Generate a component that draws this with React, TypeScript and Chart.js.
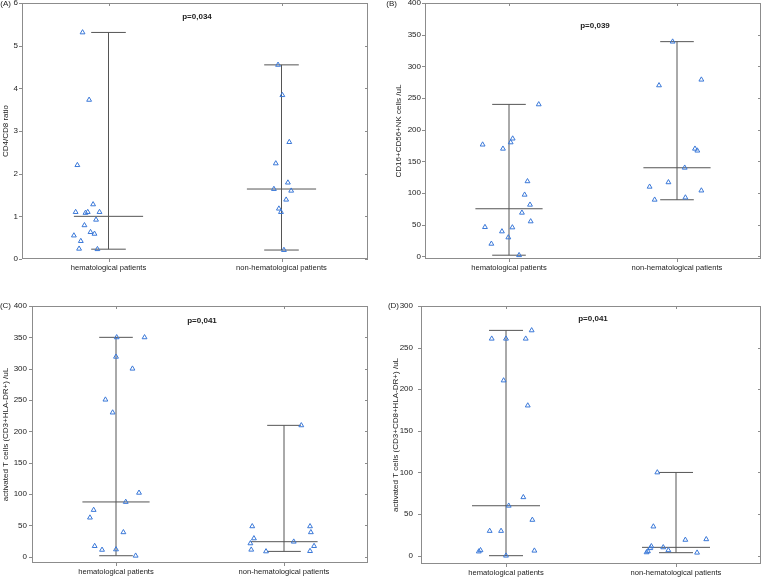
import React, { useEffect, useRef } from "react";
import { Chart, registerables } from "chart.js";

Chart.register(...registerables);

const categories = ["hematological patients", "non-hematological patients"];

// Panel A: CD4/CD8 ratio
const aTicks = [0, 1, 2, 3, 4, 5, 6];
const aHemValues = [5.31, 3.73, 2.2, 1.28, 1.1, 1.08, 1.1, 1.1, 0.92, 0.79, 0.63, 0.59, 0.55, 0.42, 0.24, 0.23];
const aHemJitter = [-0.15, -0.112, -0.18, -0.089, -0.19, -0.133, -0.12, -0.052, -0.072, -0.139, -0.104, -0.081, -0.2, -0.16, -0.17, -0.064];
const aNonValues = [4.55, 3.84, 2.74, 2.24, 1.79, 1.64, 1.6, 1.39, 1.18, 1.1, 0.21];
const aNonJitter = [-0.02, 0.005, 0.045, -0.033, 0.037, -0.044, 0.056, 0.027, -0.015, -0.003, 0.014];

// Panel B: CD16+CD56+NK cells /uL
const bTicks = [0, 50, 100, 150, 200, 250, 300, 350, 400];
const bHemValues = [240, 186, 180, 176.5, 170, 118.6, 97.4, 81.6, 69, 55.3, 46.3, 45.8, 39.5, 30, 20, 2];
const bHemJitter = [0.177, 0.022, 0.01, -0.157, -0.036, 0.11, 0.093, 0.125, 0.077, 0.129, -0.143, 0.02, -0.042, -0.004, -0.105, 0.06];
const bNonValues = [339, 270, 279, 170, 167, 140, 117, 110, 104, 89.5, 93];
const bNonJitter = [-0.026, -0.107, 0.145, 0.107, 0.121, 0.046, -0.051, -0.163, 0.145, -0.133, 0.05];

// Panel C: activated T cells (CD3+HLA-DR+) /uL
const cTicks = [0, 50, 100, 150, 200, 250, 300, 350, 400];
const cHemValues = [350, 350, 319, 300, 250.6, 230, 102, 87.4, 74.6, 62.4, 39, 17, 11, 11.7, 1.6];
const cHemJitter = [0.004, 0.17, 0, 0.098, -0.063, -0.02, 0.137, 0.058, -0.133, -0.155, 0.044, -0.127, -0.083, 0, 0.117];
const cNonValues = [209.6, 48.5, 48.5, 39, 29.3, 24, 21.3, 17, 11.2, 8.5, 9];
const cNonJitter = [0.103, -0.189, 0.155, 0.16, -0.179, 0.058, -0.2, 0.179, -0.195, -0.107, 0.155];

// Panel D: activated T cells (CD3+CD8+HLA-DR+) /uL
const dTicks = [0, 50, 100, 150, 200, 250, 300];
const dHemValues = [270.7, 260.7, 260.7, 260.7, 210.5, 180.4, 70.2, 60, 43, 29.7, 29.7, 5, 6.5, 6, 0];
const dHemJitter = [0.151, -0.084, 0, 0.116, -0.014, 0.128, 0.102, 0.016, 0.155, -0.096, -0.029, -0.16, -0.15, 0.167, 0];
const dNonValues = [100, 35, 19, 19.7, 11.3, 9, 10, 6.5, 5.3, 4, 3.6];
const dNonJitter = [-0.11, -0.133, 0.055, 0.178, -0.145, -0.151, -0.075, -0.045, -0.165, -0.173, 0.124];

const FONT = '"Liberation Sans", Arial, sans-serif';
const TEXT = "#222222";
const BLUE = "#3a78d8";
const LINE = "#555555";
const FRAME = "#8c8c8c";
const M = 20;
const CAP = 0.1;
const MED = 0.2;

function stats(vals: number[]) {
  const s = [...vals].sort((a, b) => a - b);
  const n = s.length;
  const med = n % 2 ? s[(n - 1) / 2] : (s[n / 2 - 1] + s[n / 2]) / 2;
  return { min: s[0], max: s[n - 1], med };
}

const panels = [
  {
    key: "A", x0: 0, y0: 0, w: 381, h: 287, plot: { l: 22, t: 3, r: 368, b: 259 },
    titleX: 6, tickPad: 4, yMin: 0, yMax: 6, ticks: aTicks, yTitle: "CD4/CD8 ratio",
    pText: "p=0,034", pDy: 14, label: "(A)", labelRight: 11, labelY: 4,
    groups: [[aHemJitter, aHemValues], [aNonJitter, aNonValues]],
  },
  {
    key: "B", x0: 381, y0: 0, w: 381, h: 287, plot: { l: 425, t: 3, r: 761, b: 259 },
    titleX: 399, tickPad: 4, yMin: -4, yMax: 400, ticks: bTicks, yTitle: "CD16+CD56+NK cells /uL",
    pText: "p=0,039", pDy: 23, label: "(B)", labelRight: 397, labelY: 4,
    groups: [[bHemJitter, bHemValues], [bNonJitter, bNonValues]],
  },
  {
    key: "C", x0: 0, y0: 287, w: 381, h: 290, plot: { l: 32, t: 306, r: 368, b: 563 },
    titleX: 6, tickPad: 5, yMin: -10, yMax: 400, ticks: cTicks, yTitle: "activated T cells (CD3+HLA-DR+) /uL",
    pText: "p=0,041", pDy: 15, label: "(C)", labelRight: 11, labelY: 306,
    groups: [[cHemJitter, cHemValues], [cNonJitter, cNonValues]],
  },
  {
    key: "D", x0: 381, y0: 287, w: 381, h: 290, plot: { l: 421, t: 306, r: 761, b: 564 },
    titleX: 396, tickPad: 8, yMin: -10, yMax: 300, ticks: dTicks, yTitle: "activated T cells (CD3+CD8+HLA-DR+) /uL",
    pText: "p=0,041", pDy: 13, label: "(D)", labelRight: 399, labelY: 306,
    groups: [[dHemJitter, dHemValues], [dNonJitter, dNonValues]],
  },
];

function Panel({ cfg }: { cfg: any }) {
  const ref = useRef<HTMLCanvasElement>(null);
  const cx0 = cfg.x0 - M;
  const cy0 = cfg.y0 - M;
  const cw = cfg.w + 2 * M;
  const ch = cfg.h + 2 * M;

  useEffect(() => {
    if (!ref.current) return;
    const scaleLeft = cfg.titleX - 4.8;
    const padLeft = scaleLeft - cx0;
    const yWidth = cfg.plot.l - scaleLeft;
    const xHeight = 20;
    const padTop = cfg.plot.t - cy0;
    const padRight = cx0 + cw - cfg.plot.r;
    const padBottom = cy0 + ch - cfg.plot.b - xHeight;

    const datasets: any[] = [];
    cfg.groups.forEach(([jit, vals]: number[][], gi: number) => {
      datasets.push({
        type: "scatter",
        data: vals.map((v, i) => ({ x: gi + jit[i], y: v })),
        pointStyle: "triangle",
        pointRadius: 2.8,
        borderColor: BLUE,
        backgroundColor: "rgba(255,255,255,0)",
        borderWidth: 1,
        order: 0,
      });
      const st = stats(vals);
      const segs = [
        [[gi, st.min], [gi, st.max]],
        [[gi - CAP, st.max], [gi + CAP, st.max]],
        [[gi - CAP, st.min], [gi + CAP, st.min]],
        [[gi - MED, st.med], [gi + MED, st.med]],
      ];
      segs.forEach((s) =>
        datasets.push({
          type: "line",
          data: s.map(([x, y]) => ({ x, y })),
          borderColor: LINE,
          borderWidth: 1,
          pointRadius: 0,
          fill: false,
          tension: 0,
          order: 1,
        })
      );
    });

    const framePlugin = {
      id: "frame" + cfg.key,
      beforeDatasetsDraw(chart: any) {
        const { ctx, chartArea } = chart;
        const { left, top, right, bottom } = chartArea;
        ctx.save();
        ctx.strokeStyle = FRAME;
        ctx.lineWidth = 1;
        ctx.strokeRect(left + 0.5, top + 0.5, right - left - 1, bottom - top - 1);
        const ys = chart.scales.y;
        const xs = chart.scales.x;
        ctx.beginPath();
        cfg.ticks.forEach((v: number) => {
          const py = Math.round(ys.getPixelForValue(v)) + 0.5;
          ctx.moveTo(left - 3, py);
          ctx.lineTo(left, py);
          ctx.moveTo(right - 3, py);
          ctx.lineTo(right, py);
        });
        categories.forEach((_, i) => {
          const px = Math.round(xs.getPixelForValue(i)) + 0.5;
          ctx.moveTo(px, bottom);
          ctx.lineTo(px, bottom + 3);
          ctx.moveTo(px, top);
          ctx.lineTo(px, top + 3);
        });
        ctx.stroke();
        ctx.restore();
      },
      afterDraw(chart: any) {
        const { ctx, chartArea } = chart;
        ctx.save();
        ctx.fillStyle = TEXT;
        ctx.font = `8px ${FONT}`;
        ctx.textAlign = "right";
        ctx.textBaseline = "middle";
        ctx.fillText(cfg.label, cfg.labelRight - cx0, cfg.labelY - cy0);
        ctx.font = `bold 8px ${FONT}`;
        ctx.textAlign = "center";
        ctx.fillText(cfg.pText, (chartArea.left + chartArea.right) / 2 + 2, chartArea.top + cfg.pDy);
        ctx.restore();
      },
    };

    const chart = new Chart(ref.current, {
      type: "scatter",
      data: { datasets },
      options: {
        animation: false,
        responsive: false,
        maintainAspectRatio: false,
        devicePixelRatio: 1,
        events: [],
        layout: { padding: { left: padLeft, top: padTop, right: padRight, bottom: padBottom } },
        plugins: { legend: { display: false }, tooltip: { enabled: false }, title: { display: false } },
        scales: {
          x: {
            type: "linear",
            position: "bottom",
            min: -0.5,
            max: 1.5,
            grid: { display: false, drawTicks: false },
            border: { display: false },
            afterBuildTicks: (s: any) => {
              s.ticks = categories.map((_, i) => ({ value: i }));
            },
            afterFit: (s: any) => {
              s.height = xHeight;
            },
            ticks: {
              callback: (v: any) => categories[v] ?? "",
              padding: 4,
              maxRotation: 0,
              minRotation: 0,
              autoSkip: false,
              color: TEXT,
              font: { family: FONT, size: 7.6 },
            },
          },
          y: {
            type: "linear",
            position: "left",
            min: cfg.yMin,
            max: cfg.yMax,
            grid: { display: false, drawTicks: false },
            border: { display: false },
            afterBuildTicks: (s: any) => {
              s.ticks = cfg.ticks.map((v: number) => ({ value: v }));
            },
            afterFit: (s: any) => {
              s.width = yWidth;
            },
            ticks: { padding: cfg.tickPad, color: TEXT, font: { family: FONT, size: 8 } },
            title: { display: true, text: cfg.yTitle, color: TEXT, font: { family: FONT, size: 8 }, padding: 0 },
          },
        },
      } as any,
      plugins: [framePlugin],
    });
    return () => chart.destroy();
  }, []);

  return (
    <canvas
      ref={ref}
      width={cw}
      height={ch}
      style={{ position: "absolute", left: cx0, top: cy0, width: cw, height: ch }}
    />
  );
}

export default function App() {
  return (
    <div
      style={{
        position: "fixed",
        left: 0,
        top: 0,
        width: 762,
        height: 577,
        overflow: "hidden",
        background: "#ffffff",
      }}
    >
      {panels.map((p) => (
        <Panel key={p.key} cfg={p} />
      ))}
    </div>
  );
}
